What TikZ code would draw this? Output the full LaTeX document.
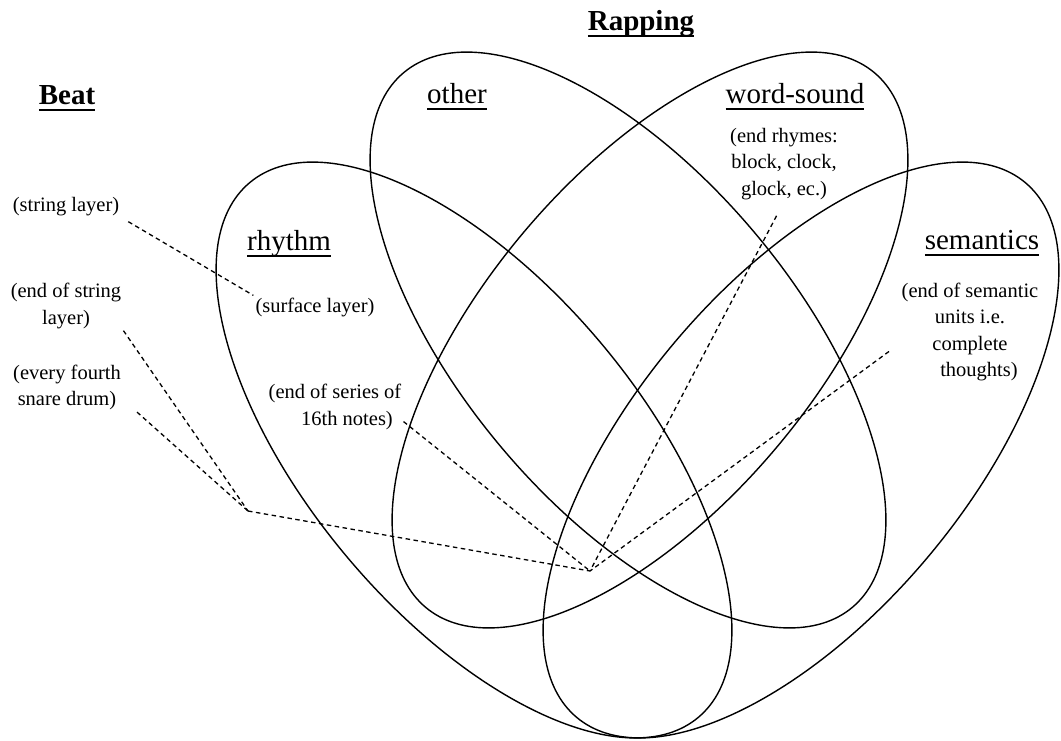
\documentclass[tikz,border=0pt]{standalone}
\usepackage{fontspec}
\setmainfont{Liberation Serif}
\newcommand\ttlul[1]{\setbox0\hbox{#1}\rlap{\rule[-7pt]{\wd0}{1.8pt}}\box0}
\begin{document}
\begin{tikzpicture}[x=1pt,y=-1pt,
  venn/.style={draw=black, line width=1.4pt},
  conn/.style={draw=black, line width=1.3pt, dash pattern=on 4.5pt off 3.5pt},
  title/.style={anchor=base, inner sep=2pt, font=\fontsize{29}{34}\selectfont},
  note/.style={anchor=base, inner sep=2pt, align=center, font=\fontsize{20.5}{26.5}\selectfont}]
\useasboundingbox (0,0) rectangle (1061,740);
% ellipses
\draw[venn, rotate around={-50:(474,450)}] (474,450) ellipse [x radius=349pt, y radius=166pt];
\draw[venn, rotate around={-50:(628,340)}] (628,340) ellipse [x radius=349pt, y radius=166pt];
\draw[venn, rotate around={50:(650,340)}] (650,340) ellipse [x radius=349pt, y radius=166pt];
\draw[venn, rotate around={50:(801,450)}] (801,450) ellipse [x radius=349pt, y radius=166pt];
% titles
\node[title] (rap) at (641,30) {\bfseries\ttlul{Rapping}};
\node[title] (beat) at (67,104) {\bfseries\ttlul{Beat}};
\node[title] (oth) at (457,103) {\ttlul{other}};
\node[title] (ws) at (795,103) {\ttlul{word-sound}};
\node[title] (rhy) at (289,250) {\ttlul{rhythm}};
\node[title] (sem) at (982,249) {\ttlul{semantics}};
% notes (base = baseline of last line)
\node[note] (wsd) at (784,195) {(end rhymes:\\block, clock,\\glock, ec.)};
\node[note] (strl) at (66,211) {(string layer)};
\node[note] (surf) at (315,312) {(surface layer)};
\node[note] (eosl) at (66,324) {(end of string\\layer)};
\node[note] (efsd) at (67,405.5) {(every fourth\\snare drum)};
\node[note] (eoss) at (335,425) {(end of series of\\\hspace*{24pt}16th notes)};
\node[note] (semd) at (970,376.5) {(end of semantic\\units i.e.\hspace*{26pt}\\complete\hspace*{10pt}\\\hspace*{18pt}thoughts)};
% connectors
\coordinate (J1) at (248,511);
\coordinate (J2) at (590,571);
\draw[conn, shorten <=8pt] (strl.south east) -- (surf.north west);
\draw[conn] (eosl.south east) -- (J1);
\draw[conn] ([xshift=14pt]efsd.south east) -- (J1);
\draw[conn] (J1) -- (J2);
\draw[conn] ([yshift=10pt]eoss.south east) -- (J2);
\draw[conn, shorten <=16pt] (wsd.south) -- (J2);
\draw[conn, shorten <=13pt] ([yshift=-12pt]semd.west) -- (J2);
\end{tikzpicture}
\end{document}
